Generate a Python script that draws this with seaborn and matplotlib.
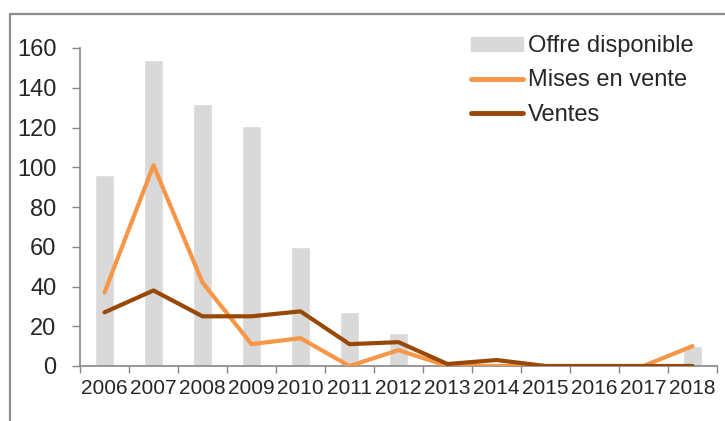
import numpy as np
import pandas as pd
import matplotlib
matplotlib.use("Agg")
import matplotlib.pyplot as plt
import matplotlib.patches as mpatches
from matplotlib.lines import Line2D
import seaborn as sns

years = ["2006", "2007", "2008", "2009", "2010", "2011", "2012",
         "2013", "2014", "2015", "2016", "2017", "2018"]
offre = [96, 154, 132, 121, 60, 27, 16.5, 0, 0, 0, 0, 0, 10]
mises = [37, 101, 42, 11, 14, 0, 8, 0, 0, 0, 0, 0, 10]
ventes = [27, 38, 25, 25, 27.5, 11, 12, 1, 3, 0, 0, 0, 0]
yticks = [0, 20, 40, 60, 80, 100, 120, 140, 160]

sns.set_theme(style="white")
plt.rcParams["font.family"] = ["Liberation Sans", "DejaVu Sans"]

C_BAR = "#D9D9D9"
C_MISES = "#F79646"
C_VENTES = "#984807"
C_AXIS = "#868686"

fig = plt.figure(figsize=(7.25, 4.21), dpi=100)
# outer frame
fig.patches.append(mpatches.Rectangle((10 / 725, -0.01), 1.0, 1 - 14 / 421 + 0.01,
                                      transform=fig.transFigure, fill=False,
                                      edgecolor="#8c8c8c", linewidth=1.6))
ax = fig.add_axes([80 / 725, 1 - 366 / 421, (717 - 80) / 725, (366 - 48) / 421])

df = pd.DataFrame({"year": years, "offre": offre, "mises": mises, "ventes": ventes})
df["pos"] = np.arange(len(years))

sns.barplot(data=df, x="year", y="offre", color=C_BAR, width=0.4,
            saturation=1, ax=ax, zorder=1)
sns.lineplot(data=df, x="pos", y="mises", color=C_MISES, linewidth=3,
             ax=ax, zorder=3)
sns.lineplot(data=df, x="pos", y="ventes", color=C_VENTES, linewidth=3,
             ax=ax, zorder=4)

ax.set_xlim(-0.5, len(years) - 0.5)
ax.set_ylim(0, 160)
ax.set_yticks(yticks)
ax.set_yticklabels([str(v) for v in yticks], fontsize=17)
ax.set_xticks(np.arange(-0.5, len(years), 1))
ax.set_xticklabels([])
ax.set_xticks(np.arange(len(years)), minor=True)
ax.set_xticklabels(years, minor=True, fontsize=15)
ax.tick_params(axis="x", which="major", direction="out", length=5, width=1,
               color=C_AXIS, bottom=True)
ax.tick_params(axis="x", which="minor", length=0, pad=9, bottom=True)
ax.tick_params(axis="y", direction="out", length=6, width=1, color=C_AXIS,
               left=True, pad=11)
ax.set_xlabel("")
ax.set_ylabel("")
for s in ["top", "right"]:
    ax.spines[s].set_visible(False)
for s in ["left", "bottom"]:
    ax.spines[s].set_color(C_AXIS)
    ax.spines[s].set_linewidth(1.2)
ax.set_facecolor("white")
ax.grid(False)

handles = [mpatches.Patch(color=C_BAR),
           Line2D([], [], color=C_MISES, lw=3.5),
           Line2D([], [], color=C_VENTES, lw=3.5)]
labels = ["Offre disponible", "Mises en vente", "Ventes"]
leg = ax.legend(handles, labels, loc="upper left",
                bbox_to_anchor=(471 / 725, 1 - 35 / 421), bbox_transform=fig.transFigure,
                frameon=False, fontsize=17, handlelength=2.2, handleheight=0.55,
                handletextpad=0.2, labelspacing=0.52, borderaxespad=0, borderpad=0)

fig.savefig("out.png", dpi=100, facecolor="white")
